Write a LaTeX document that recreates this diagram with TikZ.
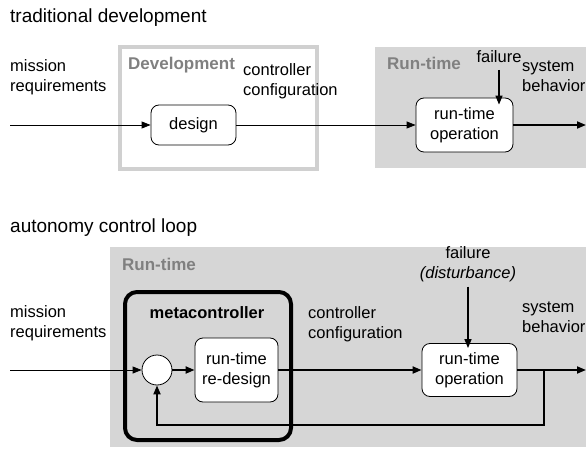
\documentclass[tikz,border=0pt]{standalone}
\usepackage{fontspec}
\setmainfont{Liberation Sans}
\usetikzlibrary{arrows.meta}
\tikzset{>={Triangle[length=9pt,width=7pt]}}
\definecolor{rtgray}{RGB}{214,214,214}
\definecolor{devgray}{RGB}{208,208,208}
\definecolor{labelgray}{RGB}{128,128,128}

\tikzset{
    every node/.style={font=\fontsize{16.5}{20}\selectfont},
    txt/.style={anchor=base west, align=left, inner sep=0pt},
    titletxt/.style={anchor=base west, inner sep=0pt, font=\fontsize{19}{23}\selectfont},
    arealabel/.style={anchor=base west, inner sep=0pt, text=labelgray, font=\fontsize{17}{20}\selectfont\bfseries},
    block/.style={draw, fill=white, rounded corners=8pt, align=center, line width=0.8pt, inner sep=0pt},
    thinarrow/.style={->, line width=0.8pt},
    thickarrow/.style={->, line width=1.8pt},
}

\begin{document}
\begin{tikzpicture}[x=1pt,y=-1pt]
    \useasboundingbox (0,0) rectangle (586,449);

    % traditional development
    \node[titletxt] (title1) at (10,23) {traditional development};
    \draw[devgray, line width=4pt] (120,47) rectangle (317,169);
    \fill[rtgray] (375,47) rectangle (586,168);
    \node[arealabel] (devlabel) at (128,70) {Development};
    \node[arealabel] (rtlabel1) at (387,70) {Run-time};

    \node[block, minimum width=85, minimum height=40] (design) at (193.5,125) {design};
    \node[block, minimum width=97, minimum height=54] (op1) at (464.5,125) {run-time\\operation};

    \node[txt] (mission1) at (10,92) {mission\\requirements};
    \node[txt] (conf1) at (243,96) {controller\\configuration};
    \node[txt] (beh1) at (522,92) {system\\behavior};
    \node[anchor=base, inner sep=0pt] (fail1) at (499,63) {failure};

    \coordinate (in1) at (10,125);
    \coordinate (out1) at (586,125);
    \draw[thinarrow] (in1) -- (design);
    \draw[thinarrow] (design) -- (op1);
    \draw[->, line width=1.4pt] ([yshift=-7pt]fail1.base) -- ([yshift=-7pt]fail1.base |- op1.north);
    \draw[thickarrow] (op1) -- (out1);

    % autonomy control loop
    \node[titletxt] (title2) at (10,233) {autonomy control loop};
    \fill[rtgray] (110,247) rectangle (586,447);
    \node[arealabel] (rtlabel2) at (122,270) {Run-time};

    \node[draw, line width=4pt, rounded corners=12pt, minimum width=166, minimum height=148] (meta) at (208,366) {};
    \node[anchor=base, inner sep=0pt, font=\fontsize{16.5}{20}\selectfont\bfseries] (metalabel) at (207,318) {metacontroller};

    \node[circle, draw, fill=white, line width=0.8pt, minimum size=30, inner sep=0pt] (sum) at (157,370) {};
    \node[block, minimum width=83, minimum height=64] (redesign) at (236.5,370) {run-time\\re-design};
    \node[block, minimum width=95, minimum height=53] (op2) at (469.5,370) {run-time\\operation};

    \node[txt] (mission2) at (10,337) {mission\\requirements};
    \node[txt] (conf2) at (308,338) {controller\\configuration};
    \node[txt] (beh2) at (522,332) {system\\behavior};
    \node[anchor=base, align=center, inner sep=0pt] (fail2) at (468,278) {failure\\\textit{(disturbance)}};

    \coordinate (in2) at (10,370);
    \coordinate (out2) at (586,370);
    \coordinate (tap) at (544,370);
    \coordinate (fb) at (544,425);
    \draw[thinarrow] (in2) -- (sum);
    \draw[thickarrow] (sum) -- (redesign);
    \draw[thickarrow] (redesign) -- (op2);
    \draw[->, line width=1.4pt] ([yshift=-5pt]fail2.south) -- ([yshift=-5pt]fail2.south |- op2.north);
    \draw[thickarrow] (op2) -- (out2);
    \draw[thickarrow] (tap) -- (fb) -| (sum);
\end{tikzpicture}
\end{document}
